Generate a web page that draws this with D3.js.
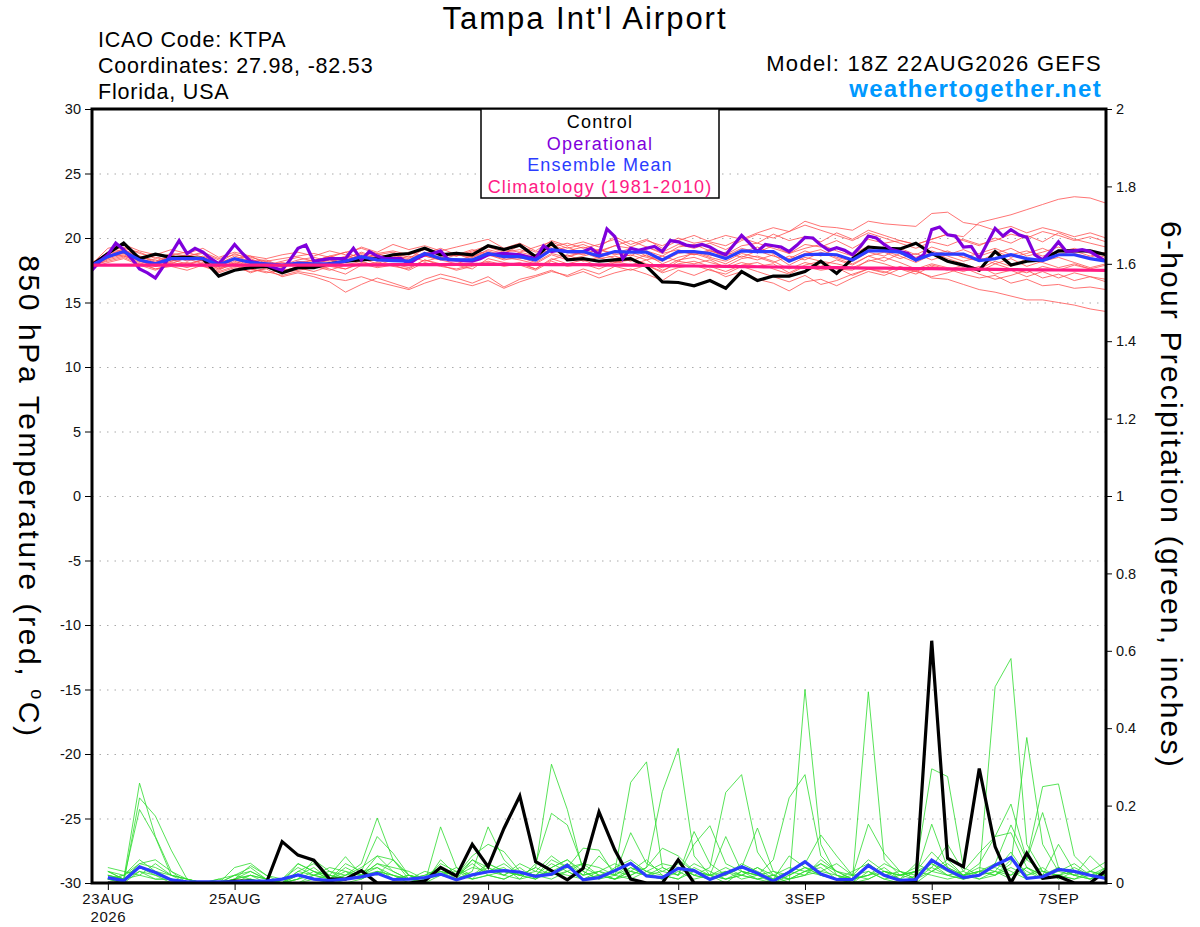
<!DOCTYPE html>
<html>
<head>
<meta charset="utf-8">
<script src="https://cdn.jsdelivr.net/npm/d3@7"></script>
<style>
  body { margin: 0; background: #fff; }
  text { font-family: "Liberation Sans", Arial, Helvetica, sans-serif; }
</style>
</head>
<body>
<svg width="1200" height="927"></svg>
<script>
// ---- data ----
const runStart = Date.UTC(2026, 7, 22, 18) // 18Z 22AUG2026
const stepHours = 6
const opStepHours = 3

const dateTicks = ["2026-08-23", "2026-08-25", "2026-08-27", "2026-08-29",
  "2026-09-01", "2026-09-03", "2026-09-05", "2026-09-07"]
const tempTicks = [-30, -25, -20, -15, -10, -5, 0, 5, 10, 15, 20, 25, 30]
const gridTemps = [-25, -20, -15, -10, -5, 0, 5, 10, 15, 20, 25]
const precipTicks = [0, 0.2, 0.4, 0.6, 0.8, 1, 1.2, 1.4, 1.6, 1.8, 2]

const legendLabels = ["Control", "Operational", "Ensemble Mean", "Climatology (1981-2010)"]

// 850 hPa temperature, 6-hourly from 18Z 22AUG
const controlTemp = [17.9, 18.8, 19.6, 18.4, 18.75, 18.5, 18.5, 18.4, 17.05, 17.5, 17.7, 17.8, 17.3,
  17.7, 17.7, 18.0, 18.2, 18.3, 18.4, 18.7, 18.8, 19.2, 18.7, 18.8, 18.7, 19.4,
  19.1, 19.45, 18.55, 19.6, 18.3, 18.4, 18.2, 18.3, 18.4, 17.8, 16.6, 16.55, 16.3,
  16.7, 16.1, 17.4, 16.7, 17.05, 17.05, 17.4, 18.2, 17.25, 18.4, 19.3, 19.2, 19.15,
  19.6, 18.8, 18.2, 17.9, 17.5, 18.95, 17.9, 18.2, 18.3, 19.0, 19.0, 19.0, 18.7]

const meanTemp = [17.9, 18.55, 18.95, 18.3, 18.0, 18.4, 18.4, 18.4, 17.9, 18.4, 18.1, 18.0, 17.9,
  18.05, 18.0, 18.0, 18.2, 18.55, 18.3, 18.25, 18.2, 18.8, 18.4, 18.3, 18.3, 18.8,
  18.55, 18.55, 18.3, 19.1, 18.95, 18.95, 18.6, 18.95, 18.9, 18.9, 18.3, 18.95, 18.95,
  18.8, 18.4, 19.0, 18.95, 18.95, 18.2, 18.7, 18.75, 18.7, 18.3, 19.0, 19.0, 18.9,
  18.3, 18.75, 18.75, 18.75, 18.25, 18.4, 18.7, 18.4, 18.25, 18.7, 18.7, 18.4, 18.2]

const climTemp = [17.9, 17.9, 17.9, 17.9, 17.9, 17.9, 17.9, 17.9, 17.9, 17.9, 17.9, 17.9, 17.9,
  17.9, 17.9, 17.9, 17.9, 17.92, 17.92, 17.93, 17.93, 17.94, 17.94, 17.95, 17.95, 17.95,
  17.95, 17.95, 17.95, 17.94, 17.94, 17.93, 17.92, 17.9, 17.89, 17.87, 17.86, 17.84, 17.83,
  17.81, 17.8, 17.78, 17.77, 17.75, 17.74, 17.72, 17.71, 17.7, 17.68, 17.67, 17.66, 17.64,
  17.63, 17.62, 17.6, 17.59, 17.58, 17.57, 17.55, 17.54, 17.53, 17.52, 17.51, 17.5, 17.49]

// operational run is 3-hourly
const operationalTemp = [17.5, 18.2, 18.7, 19.6, 19.1, 18.4, 17.6, 17.3, 16.9, 17.8, 18.8, 19.8, 18.8,
  19.2, 18.9, 18.4, 18.0, 18.7, 19.5, 18.8, 18.2, 18.05, 17.9, 17.7, 17.5, 18.3, 19.2,
  19.45, 18.2, 18.3, 18.4, 18.4, 18.4, 19.2, 18.3, 18.95, 18.6, 18.4, 18.4, 18.4, 18.0,
  18.4, 18.7, 18.8, 19.0, 18.3, 18.3, 18.25, 18.2, 18.4, 18.7, 18.75, 18.8, 18.75, 18.7,
  18.55, 18.4, 19.4, 18.95, 19.05, 18.95, 18.95, 18.95, 19.2, 18.7,
  20.7, 20.1, 18.4, 19.2, 19.05, 19.2, 19.35, 18.95, 19.8, 19.7, 19.45, 19.35, 19.5,
  19.3, 18.95, 18.7, 19.45, 20.2, 19.6, 18.95, 19.5, 19.4, 19.3, 18.95, 19.45, 20.05,
  20.0, 19.45, 19.05, 19.25, 19.05, 18.7, 19.35, 20.15, 20.0, 19.5, 19.1, 18.95, 18.8,
  18.3, 18.7, 20.65, 20.85, 20.25, 20.15, 19.3, 19.35, 18.4, 19.6, 20.75, 20.15, 20.65,
  20.25, 20.05, 18.7, 18.3, 18.95, 19.7, 18.95, 19.0, 19.1, 18.95, 18.55, 18.2]

const memberTemps = [
  [17.8, 18.4, 19.1, 18.6, 18.2, 18.7, 18.9, 18.5, 18.0, 18.6, 18.2, 18.3, 17.8,
    18.1, 18.3, 18.5, 18.4, 18.9, 18.5, 18.7, 18.4, 19.2, 18.8, 18.6, 18.9, 19.3,
    18.9, 19.1, 18.7, 19.5, 19.0, 19.3, 18.9, 19.4, 19.2, 19.0, 18.6, 19.3, 19.5,
    19.0, 18.7, 19.4, 19.6, 19.2, 18.8, 19.5, 19.3, 19.8, 19.2, 19.9, 19.6, 19.8,
    19.5, 19.9, 20.3, 20.1, 21.2, 21.5, 21.8, 22.2, 22.6, 23.0, 23.2, 23.1, 22.7],
  [18.0, 18.9, 19.3, 18.8, 18.5, 18.2, 18.6, 18.8, 18.3, 18.0, 18.4, 17.9, 18.2,
    18.5, 18.2, 18.6, 18.9, 18.4, 18.7, 18.9, 18.5, 18.8, 19.2, 18.7, 18.5, 19.1,
    18.8, 19.4, 18.9, 19.3, 19.6, 19.2, 19.5, 19.9, 19.3, 19.8, 19.4, 20.0, 19.6,
    19.8, 20.2, 19.9, 20.4, 20.8, 20.5, 21.3, 20.9, 20.8, 20.6, 21.3, 21.1, 21.0,
    20.9, 21.9, 22.0, 21.2, 21.0, 20.6, 20.9, 20.4, 20.8, 20.5, 20.1, 20.4, 20.0],
  [17.9, 18.2, 18.5, 18.0, 17.6, 17.9, 18.1, 17.8, 17.4, 17.8, 17.6, 17.3, 17.5,
    17.7, 17.4, 17.8, 17.6, 18.0, 17.7, 17.9, 17.5, 18.1, 17.8, 17.6, 17.9, 18.2,
    17.9, 18.1, 17.6, 18.4, 18.0, 18.3, 17.8, 18.2, 17.9, 18.3, 17.5, 18.0, 18.2,
    17.8, 17.4, 17.9, 18.1, 17.6, 17.2, 17.8, 17.5, 17.7, 17.1, 17.6, 17.4, 17.0,
    17.5, 16.9, 16.8, 16.4, 16.0, 15.8, 15.5, 15.2, 15.2, 15.0, 14.8, 14.5, 14.3],
  [18.1, 18.7, 18.8, 18.2, 17.9, 18.3, 18.0, 18.3, 17.6, 18.2, 17.8, 17.9, 17.4,
    17.8, 17.9, 17.6, 17.2, 17.9, 18.1, 17.8, 17.6, 18.3, 18.0, 17.9, 17.6, 18.4,
    18.1, 17.9, 17.5, 18.2, 17.8, 18.0, 17.6, 18.1, 18.3, 17.9, 17.4, 18.2, 18.0,
    18.3, 17.7, 18.1, 17.8, 18.0, 17.3, 17.9, 18.2, 17.6, 17.5, 18.3, 18.0, 17.6,
    17.4, 17.9, 17.6, 17.2, 16.9, 17.1, 16.5, 16.8, 16.3, 16.4, 16.1, 16.2, 16.0],
  [17.8, 18.3, 18.6, 18.1, 17.6, 17.8, 17.5, 17.9, 17.3, 17.7, 17.4, 17.6, 17.0,
    17.3, 17.0, 16.6, 15.8, 16.4, 16.9, 16.5, 16.1, 16.8, 17.2, 16.9, 16.5, 17.0,
    16.2, 16.8, 17.1, 17.5, 17.0, 17.4, 16.9, 17.3, 17.6, 17.2, 16.7, 17.5, 17.1,
    17.6, 17.0, 17.4, 16.8, 16.5, 15.9, 16.6, 16.8, 16.3, 16.9, 17.4, 17.1, 17.6,
    17.2, 17.8, 17.5, 17.9, 17.4, 18.0, 17.6, 17.3, 17.8, 17.5, 17.9, 17.6, 17.4],
  [18.0, 19.2, 19.5, 19.0, 18.7, 19.1, 18.8, 19.2, 18.5, 18.9, 18.6, 18.4, 18.7,
    18.9, 18.6, 19.0, 18.7, 19.3, 18.9, 19.5, 19.1, 19.4, 19.0, 19.3, 19.6, 19.9,
    19.2, 19.6, 19.0, 19.8, 19.4, 19.7, 19.3, 20.1, 19.5, 19.9, 19.2, 19.8, 20.2,
    19.7, 19.4, 20.0, 19.6, 20.3, 19.8, 20.1, 19.7, 20.4, 19.9, 20.6, 20.2, 19.8,
    19.5, 19.9, 20.3, 19.8, 19.4, 20.0, 19.6, 20.2, 19.7, 20.4, 19.9, 19.6, 19.3],
  [17.9, 18.5, 18.9, 18.4, 18.1, 18.6, 18.3, 18.5, 18.1, 18.4, 18.0, 18.2, 17.8,
    18.0, 18.3, 18.1, 18.5, 18.8, 18.4, 18.6, 18.3, 18.9, 18.5, 18.2, 18.6, 19.0,
    18.6, 18.8, 18.4, 19.2, 18.9, 18.7, 19.1, 18.8, 19.2, 18.6, 18.3, 19.0, 18.7,
    19.1, 18.5, 18.9, 19.3, 18.8, 18.4, 19.0, 18.6, 19.2, 18.7, 19.4, 19.0, 18.6,
    18.1, 18.7, 19.0, 18.5, 18.2, 18.8, 19.2, 18.6, 18.9, 19.3, 18.8, 18.5, 18.9],
  [18.1, 18.8, 19.0, 18.5, 18.3, 18.0, 18.5, 18.2, 17.8, 18.3, 17.9, 18.1, 17.7,
    18.2, 18.0, 18.3, 18.1, 18.4, 18.0, 18.5, 18.2, 18.6, 18.3, 18.0, 18.4, 18.7,
    18.3, 18.5, 18.1, 18.8, 18.5, 18.9, 18.4, 18.6, 18.2, 18.7, 18.0, 18.5, 18.8,
    18.4, 18.0, 18.6, 18.3, 18.7, 17.9, 18.5, 18.2, 18.0, 17.7, 18.2, 18.5, 18.1,
    17.6, 18.0, 17.7, 17.4, 17.8, 17.2, 17.5, 17.0, 17.4, 16.9, 17.3, 17.0, 16.8],
  [17.8, 18.6, 19.2, 18.9, 18.4, 18.8, 18.6, 18.9, 18.4, 18.7, 18.5, 18.2, 18.4,
    18.6, 18.8, 18.5, 18.9, 19.2, 18.8, 19.0, 18.7, 19.1, 18.9, 18.6, 19.0, 19.4,
    19.1, 18.9, 19.3, 19.7, 19.2, 19.5, 19.0, 19.4, 19.8, 19.3, 18.9, 19.5, 19.2,
    19.6, 19.1, 19.8, 20.3, 20.0, 20.5, 21.0, 20.6, 20.2, 19.8, 20.4, 20.0, 19.6,
    19.2, 19.7, 19.4, 19.9, 19.5, 19.8, 20.3, 20.0, 20.5, 20.2, 19.8, 20.1, 19.7],
  [17.7, 18.1, 18.4, 17.9, 17.5, 18.0, 17.7, 18.1, 17.6, 17.9, 17.3, 17.7, 17.5,
    17.6, 17.8, 17.5, 17.9, 18.2, 17.8, 18.0, 17.7, 18.3, 17.9, 17.5, 17.8, 18.1,
    17.8, 18.0, 17.6, 18.3, 18.7, 18.2, 18.5, 18.1, 18.4, 18.0, 17.7, 18.3, 18.5,
    18.1, 17.8, 18.4, 18.6, 18.2, 17.6, 18.1, 17.8, 18.3, 17.9, 18.6, 18.2, 18.8,
    18.3, 18.9, 18.4, 18.0, 17.6, 18.2, 17.8, 18.4, 18.1, 17.7, 18.0, 17.6, 17.9],
  [18.0, 18.7, 18.6, 18.3, 17.8, 18.2, 18.4, 18.0, 17.5, 18.1, 17.7, 17.8, 17.3,
    17.5, 17.7, 17.9, 17.6, 18.1, 17.9, 18.3, 18.6, 18.2, 18.5, 18.8, 18.3, 18.6,
    18.9, 18.4, 18.7, 19.1, 18.6, 18.9, 18.5, 18.9, 18.6, 19.3, 18.8, 19.1, 18.7,
    19.0, 18.6, 19.2, 18.9, 19.4, 18.8, 19.2, 19.5, 19.0, 18.6, 19.1, 19.3, 18.8,
    18.5, 19.0, 18.6, 18.2, 18.5, 18.0, 18.4, 17.8, 18.2, 18.5, 18.1, 17.7, 18.0],
  [17.9, 18.4, 18.7, 18.2, 17.8, 18.1, 17.9, 18.3, 17.7, 18.0, 17.6, 17.4, 17.1,
    17.4, 17.2, 16.9, 16.7, 17.0, 16.6, 16.3, 16.0, 16.5, 16.9, 16.6, 16.3, 16.7,
    16.1, 16.6, 17.0, 17.4, 17.1, 17.6, 17.2, 17.8, 17.5, 17.9, 17.3, 17.7, 17.9,
    17.5, 17.2, 17.8, 17.4, 17.0, 16.6, 17.1, 16.4, 16.7, 17.2, 17.6, 17.3, 17.8,
    17.4, 17.0, 17.3, 17.7, 17.2, 16.8, 17.1, 17.5, 16.9, 17.2, 16.7, 17.0, 16.6],
  [17.8, 18.5, 18.8, 18.6, 18.1, 18.5, 18.7, 18.3, 17.9, 18.4, 18.6, 18.0, 17.9,
    18.3, 18.5, 18.2, 18.6, 18.3, 18.8, 18.4, 18.9, 18.6, 18.3, 18.7, 19.1, 18.7,
    18.4, 18.9, 18.6, 19.0, 19.3, 18.8, 19.1, 18.7, 18.9, 18.5, 18.2, 18.8, 19.0,
    18.6, 18.9, 18.5, 19.0, 18.6, 18.3, 18.8, 19.1, 18.5, 18.2, 18.9, 18.6, 19.2,
    18.7, 19.3, 18.9, 18.5, 18.8, 19.2, 18.7, 19.0, 18.6, 18.9, 19.2, 18.8, 18.5],
  [18.0, 18.9, 19.1, 18.4, 18.0, 18.7, 18.2, 18.6, 18.1, 18.8, 18.3, 17.9, 18.1,
    17.9, 18.2, 18.6, 18.3, 18.7, 18.2, 18.4, 18.1, 18.7, 18.4, 18.9, 18.5, 18.9,
    18.5, 18.3, 18.0, 18.7, 18.3, 18.6, 18.9, 18.4, 18.7, 18.3, 18.6, 18.2, 18.9,
    18.5, 18.2, 18.8, 18.5, 18.1, 18.6, 18.3, 18.9, 18.4, 18.0, 18.6, 18.9, 18.4,
    18.8, 18.3, 18.7, 19.1, 18.6, 19.0, 18.5, 18.8, 19.2, 18.7, 19.0, 18.6, 18.9]
]

// 6-hour precipitation (inches), valid from 00Z 23AUG
const controlPrecip = [0, 0, 0, 0, 0, 0, 0, 0, 0.005, 0.005, 0, 0.107, 0.072, 0.059, 0.01, 0.01,
  0.032, 0, 0, 0, 0.005, 0.04, 0.018, 0.10, 0.042, 0.141, 0.225, 0.055, 0.032, 0.008, 0.038, 0.184,
  0.085, 0.01, 0, 0, 0.06, 0, 0, 0, 0, 0, 0, 0, 0, 0, 0, 0,
  0, 0, 0, 0.004, 0.626, 0.064, 0.042, 0.296, 0.094, 0, 0.077, 0.012, 0.017, 0, 0, 0.032]

const meanPrecip = [0.014, 0.006, 0.042, 0.027, 0.008, 0.003, 0.003, 0.003, 0.003, 0.005, 0.005, 0.01, 0.021, 0.01, 0.006, 0.01,
  0.016, 0.025, 0.009, 0.01, 0.014, 0.023, 0.008, 0.021, 0.029, 0.032, 0.028, 0.017, 0.023, 0.046, 0.008, 0.014,
  0.032, 0.051, 0.018, 0.014, 0.038, 0.032, 0.009, 0.025, 0.042, 0.025, 0.005, 0.028, 0.055, 0.023, 0.009, 0.009,
  0.045, 0.02, 0.007, 0.009, 0.059, 0.034, 0.014, 0.02, 0.046, 0.066, 0.012, 0.016, 0.035, 0.03, 0.02, 0.012]

const memberPrecips = [
  [0.02, 0.01, 0.258, 0.12, 0.03, 0, 0, 0, 0.01, 0.02, 0, 0, 0.01, 0.03, 0.01, 0,
    0.01, 0.03, 0.02, 0, 0.01, 0.04, 0.02, 0.01, 0.05, 0.03, 0.02, 0.04, 0.307, 0.19, 0.03, 0.01,
    0.02, 0.05, 0.03, 0.01, 0.04, 0.02, 0.01, 0.03, 0.02, 0.01, 0, 0.02, 0.04, 0.02, 0.01, 0,
    0.03, 0.01, 0, 0.02, 0.05, 0.03, 0.01, 0.02, 0.507, 0.58, 0.1, 0.03, 0.02, 0.01, 0.03, 0.02],
  [0.01, 0, 0.22, 0.173, 0.085, 0.01, 0, 0, 0, 0.01, 0, 0, 0, 0.02, 0.03, 0.01,
    0.02, 0.04, 0.01, 0.02, 0, 0.145, 0.04, 0.01, 0.02, 0.01, 0.03, 0.02, 0.05, 0.03, 0.01, 0.02,
    0.01, 0.03, 0.06, 0.02, 0.01, 0.04, 0.02, 0, 0.03, 0.01, 0.02, 0, 0.5, 0.1, 0.02, 0.01,
    0.02, 0.04, 0.01, 0, 0.03, 0.06, 0.02, 0.01, 0.03, 0.02, 0.04, 0.01, 0.02, 0.03, 0.01, 0.02],
  [0.03, 0.01, 0.19, 0.118, 0.02, 0, 0, 0, 0.01, 0.03, 0.01, 0, 0.02, 0.01, 0, 0.02,
    0.05, 0.168, 0.06, 0.02, 0.01, 0.03, 0.02, 0.04, 0.03, 0.05, 0.02, 0.01, 0.04, 0.06, 0.02, 0.03,
    0.01, 0.02, 0.04, 0.236, 0.348, 0.07, 0.02, 0.01, 0.03, 0.02, 0, 0.01, 0.03, 0.05, 0.02, 0,
    0.01, 0.03, 0.02, 0.04, 0.295, 0.275, 0.04, 0.02, 0.05, 0.03, 0.01, 0.02, 0.04, 0.02, 0.01, 0.03],
  [0.01, 0.02, 0.06, 0.03, 0.01, 0, 0, 0.01, 0.02, 0.04, 0.01, 0, 0.03, 0.05, 0.02, 0.01,
    0.02, 0.07, 0.03, 0.01, 0.02, 0.04, 0.01, 0.03, 0.145, 0.06, 0.02, 0.03, 0.02, 0.04, 0.05, 0.02,
    0.03, 0.26, 0.313, 0.04, 0.02, 0.05, 0.03, 0.01, 0.02, 0.04, 0.01, 0.03, 0.02, 0.06, 0.03, 0.01,
    0.494, 0.06, 0.02, 0.01, 0.04, 0.02, 0.03, 0.01, 0.02, 0.05, 0.376, 0.1, 0.03, 0.02, 0.01, 0.04],
  [0.02, 0.01, 0.05, 0.04, 0.02, 0.01, 0, 0, 0.04, 0.051, 0.02, 0.01, 0.04, 0.02, 0.01, 0.05,
    0.03, 0.12, 0.077, 0.02, 0.01, 0.05, 0.03, 0.02, 0.04, 0.02, 0.01, 0.05, 0.18, 0.15, 0.04, 0.02,
    0.01, 0.04, 0.02, 0.03, 0.05, 0.02, 0.04, 0.234, 0.28, 0.08, 0.02, 0.01, 0.03, 0.04, 0.01, 0.02,
    0.03, 0.01, 0.02, 0.03, 0.05, 0.02, 0.01, 0.03, 0.04, 0.02, 0.06, 0.249, 0.256, 0.07, 0.03, 0.02],
  [0.01, 0.01, 0.04, 0.02, 0.01, 0, 0, 0.01, 0, 0.02, 0.01, 0, 0.05, 0.03, 0.02, 0.068,
    0.02, 0.05, 0.03, 0.01, 0, 0.06, 0.02, 0.07, 0.1, 0.081, 0.03, 0.02, 0.06, 0.04, 0.02, 0.03,
    0.05, 0.03, 0.02, 0.04, 0.02, 0.1, 0.148, 0.05, 0.03, 0.02, 0.06, 0.22, 0.28, 0.07, 0.03, 0.01,
    0.02, 0.05, 0.03, 0.01, 0.06, 0.03, 0.02, 0.05, 0.12, 0.204, 0.06, 0.03, 0.02, 0.04, 0.02, 0.01],
  [0.03, 0.02, 0.05, 0.06, 0.03, 0.01, 0, 0, 0.01, 0.045, 0.02, 0, 0.01, 0.06, 0.03, 0.02,
    0.04, 0.07, 0.06, 0.02, 0.01, 0.03, 0.02, 0.06, 0.04, 0.02, 0.05, 0.03, 0.07, 0.04, 0.09, 0.085,
    0.02, 0.13, 0.05, 0.03, 0.02, 0.133, 0.05, 0.02, 0.04, 0.142, 0.03, 0.02, 0.04, 0.03, 0.05, 0.02,
    0.152, 0.077, 0.03, 0.02, 0.152, 0.04, 0.02, 0.03, 0.05, 0.15, 0.06, 0.182, 0.04, 0.02, 0.03, 0.055],
  [0.01, 0, 0.03, 0.02, 0, 0, 0, 0, 0.02, 0.01, 0, 0, 0.02, 0.04, 0.01, 0.03,
    0.01, 0.03, 0.02, 0.01, 0.02, 0.03, 0.01, 0.02, 0.03, 0.04, 0.01, 0.02, 0.03, 0.05, 0.02, 0.07,
    0.03, 0.02, 0.04, 0.09, 0.07, 0.03, 0.02, 0.12, 0.03, 0.02, 0.01, 0.03, 0.05, 0.124, 0.07, 0.02,
    0.01, 0.03, 0.02, 0.03, 0.04, 0.1, 0.03, 0.078, 0.12, 0.13, 0.04, 0.02, 0.1, 0.03, 0.02, 0.04],
  [0.04, 0.03, 0.02, 0.05, 0.02, 0.01, 0, 0, 0, 0.01, 0, 0.01, 0.05, 0.03, 0.01, 0.02,
    0.03, 0.02, 0.06, 0.01, 0, 0.02, 0.01, 0.06, 0.03, 0.02, 0.04, 0.01, 0.03, 0.02, 0.01, 0.03,
    0.02, 0.01, 0.03, 0.02, 0.01, 0.03, 0.02, 0.04, 0.02, 0.01, 0.02, 0.04, 0.03, 0.02, 0.01, 0,
    0.05, 0.02, 0.01, 0.03, 0.08, 0.04, 0.02, 0.03, 0.02, 0.06, 0.03, 0.01, 0.04, 0.02, 0.07, 0.03],
  [0.02, 0.01, 0.03, 0.01, 0.01, 0, 0, 0, 0.01, 0.02, 0.01, 0, 0, 0.01, 0.02, 0.01,
    0.03, 0.04, 0.02, 0.01, 0.03, 0.02, 0.03, 0.01, 0.02, 0.03, 0.02, 0.04, 0.02, 0.03, 0.01, 0.02,
    0.01, 0.03, 0.02, 0.01, 0.03, 0.01, 0.02, 0.03, 0.01, 0.02, 0.03, 0.01, 0.02, 0.03, 0.02, 0.01,
    0.02, 0.03, 0.02, 0.03, 0.02, 0.01, 0.02, 0.03, 0.02, 0.04, 0.02, 0.03, 0.02, 0.01, 0.02, 0.03],
  [0.01, 0.02, 0.04, 0.03, 0.02, 0.01, 0, 0, 0, 0, 0, 0, 0.03, 0.02, 0.04, 0.03,
    0.02, 0.05, 0.04, 0.03, 0.01, 0.02, 0.04, 0.02, 0.05, 0.03, 0.02, 0.01, 0.04, 0.06, 0.03, 0.01,
    0.04, 0.06, 0.03, 0.05, 0.04, 0.02, 0.01, 0.02, 0.05, 0.03, 0.01, 0.07, 0.04, 0.02, 0.01, 0.03,
    0.05, 0.02, 0.03, 0.01, 0.03, 0.05, 0.02, 0.04, 0.03, 0.01, 0.04, 0.02, 0.03, 0.05, 0.02, 0.01],
  [0.03, 0.01, 0.02, 0.01, 0.01, 0, 0, 0, 0.02, 0.03, 0.01, 0, 0.01, 0.02, 0.01, 0.04,
    0.02, 0.03, 0.01, 0.02, 0.01, 0.04, 0.02, 0.05, 0.02, 0.01, 0.03, 0.02, 0.01, 0.03, 0.05, 0.04,
    0.02, 0.04, 0.02, 0.01, 0.06, 0.03, 0.02, 0.01, 0.02, 0.04, 0.02, 0.01, 0.02, 0.05, 0.03, 0.02,
    0.06, 0.03, 0.01, 0.05, 0.03, 0.02, 0.01, 0.02, 0.03, 0.08, 0.02, 0.04, 0.01, 0.03, 0.02, 0.02]
]

// ---- colours ----
const memberTempColor = "#ff5050"
const memberPrecipColor = "#2ddc2d"
const controlColor = "#000000"
const operationalColor = "#7f00dc"
const meanColor = "#2b3cff"
const climColor = "#ff1a84"
const legendColors = [controlColor, operationalColor, meanColor, climColor]

// ---- layout ----
const svg = d3.select("svg")
const plot = { left: 92, right: 1106, top: 109, bottom: 883 }

const timeAt = (i, hours, offset) => new Date(runStart + (i + offset) * hours * 3600e3)

const x = d3.scaleUtc()
  .domain([new Date(runStart), timeAt(64, stepHours, 0)])
  .range([plot.left, plot.right])
const yT = d3.scaleLinear().domain([-30, 30]).range([plot.bottom, plot.top])
const yP = d3.scaleLinear().domain([0, 2]).range([plot.bottom, plot.top])

const tempLine = (hours, offset) => d3.line()
  .x((d, i) => x(timeAt(i, hours, offset)))
  .y(d => yT(d))
const precipLine = d3.line()
  .x((d, i) => x(timeAt(i, stepHours, 1)))
  .y(d => yP(d))

// dotted grid
svg.append("g")
  .attr("transform", `translate(${plot.left},0)`)
  .call(d3.axisLeft(yT).tickValues(gridTemps).tickSize(-(plot.right - plot.left)).tickFormat(""))
  .call(g => g.select(".domain").remove())
  .selectAll("line")
  .attr("stroke", "#aaaaaa")
  .attr("stroke-width", 1.2)
  .attr("stroke-dasharray", "1.5,6")

// clip so lines stay in the frame
svg.append("clipPath").attr("id", "plotclip")
  .append("rect")
  .attr("x", plot.left).attr("y", plot.top)
  .attr("width", plot.right - plot.left).attr("height", plot.bottom - plot.top)

const lines = svg.append("g").attr("clip-path", "url(#plotclip)")

// ensemble members
lines.selectAll("path.tmember")
  .data(memberTemps)
  .join("path")
  .attr("class", "tmember")
  .attr("d", tempLine(stepHours, 0))
  .attr("fill", "none")
  .attr("stroke", memberTempColor)
  .attr("stroke-width", 0.8)

lines.selectAll("path.pmember")
  .data(memberPrecips)
  .join("path")
  .attr("class", "pmember")
  .attr("d", precipLine)
  .attr("fill", "none")
  .attr("stroke", memberPrecipColor)
  .attr("stroke-width", 0.8)

function thickLine(d, gen, color) {
  lines.append("path")
    .datum(d)
    .attr("d", gen)
    .attr("fill", "none")
    .attr("stroke", color)
    .attr("stroke-width", 3.2)
    .attr("stroke-linejoin", "miter")
}

thickLine(controlPrecip, precipLine, controlColor)
thickLine(meanPrecip, precipLine, meanColor)
thickLine(controlTemp, tempLine(stepHours, 0), controlColor)
thickLine(operationalTemp, tempLine(opStepHours, 0), operationalColor)
thickLine(meanTemp, tempLine(stepHours, 0), meanColor)
thickLine(climTemp, tempLine(stepHours, 0), climColor)

// ---- axes ----
const tickFont = g => g.selectAll("text")
  .attr("font-size", 14.5)
  .attr("fill", "#111")
  .style("font-family", "'Liberation Sans', Arial, sans-serif")

// plain hyphen minus, like the reference
const plainNum = d => String(d)

svg.append("g")
  .attr("transform", `translate(${plot.left - 1},0)`)
  .call(d3.axisLeft(yT).tickValues(tempTicks).tickSize(6).tickPadding(4).tickFormat(plainNum))
  .call(g => g.select(".domain").remove())
  .call(tickFont)

svg.append("g")
  .attr("transform", `translate(${plot.right + 1},0)`)
  .call(d3.axisRight(yP).tickValues(precipTicks).tickSize(5).tickPadding(4).tickFormat(plainNum))
  .call(g => g.select(".domain").remove())
  .call(tickFont)

const dayFmt = d3.utcFormat("%-d%b")
const xAxis = svg.append("g")
  .attr("transform", `translate(0,${plot.bottom + 1})`)
  .call(d3.axisBottom(x).tickValues(dateTicks.map(s => new Date(s + "T00:00:00Z")))
    .tickSize(6).tickPadding(3).tickFormat(d => dayFmt(d).toUpperCase()))
  .call(g => g.select(".domain").remove())
  .call(tickFont)
  .call(g => g.selectAll("text").attr("font-size", 15).attr("letter-spacing", 0.6))

xAxis.select(".tick text")
  .append("tspan")
  .attr("x", 0)
  .attr("dy", "1.2em")
  .text("2026")

// frame
svg.append("rect")
  .attr("x", plot.left).attr("y", plot.top)
  .attr("width", plot.right - plot.left).attr("height", plot.bottom - plot.top)
  .attr("fill", "none")
  .attr("stroke", "#000")
  .attr("stroke-width", 3)

// ---- legend ----
const legend = svg.append("g")
legend.append("rect")
  .attr("x", 481).attr("y", plot.top)
  .attr("width", 238).attr("height", 89)
  .attr("fill", "#fff")
  .attr("stroke", "#000")
  .attr("stroke-width", 1.5)
legend.selectAll("text")
  .data(legendLabels)
  .join("text")
  .attr("x", 600)
  .attr("y", (d, i) => 128 + i * 21.5)
  .attr("text-anchor", "middle")
  .attr("font-size", 18)
  .attr("letter-spacing", 1.2)
  .attr("fill", (d, i) => legendColors[i])
  .text(d => d)

// ---- titles ----
svg.append("text")
  .text("Tampa Int'l Airport")
  .attr("x", 585).attr("y", 29)
  .attr("text-anchor", "middle")
  .attr("font-size", 31)
  .attr("letter-spacing", 2)

const infoLeft = ["ICAO Code: KTPA", "Coordinates: 27.98, -82.53", "Florida, USA"]
svg.selectAll("text.info")
  .data(infoLeft)
  .join("text")
  .attr("class", "info")
  .attr("x", 98)
  .attr("y", (d, i) => 47 + i * 26)
  .attr("font-size", 21.5)
  .attr("letter-spacing", 0.8)
  .text(d => d)

svg.append("text")
  .text("Model: 18Z 22AUG2026 GEFS")
  .attr("x", 1102).attr("y", 71)
  .attr("text-anchor", "end")
  .attr("font-size", 22)
  .attr("letter-spacing", 1.3)

svg.append("text")
  .text("weathertogether.net")
  .attr("x", 1102).attr("y", 97)
  .attr("text-anchor", "end")
  .attr("font-size", 24)
  .attr("font-weight", "bold")
  .attr("letter-spacing", 1.3)
  .attr("fill", "#0099ff")

// axis titles, both read top to bottom
const leftTitle = svg.append("text")
  .attr("transform", "translate(19,497) rotate(90)")
  .attr("text-anchor", "middle")
  .attr("font-size", 30)
  .attr("letter-spacing", 2.6)
leftTitle.append("tspan").text("850 hPa Temperature (red, ")
leftTitle.append("tspan").attr("font-size", 18).attr("dy", -12).text("o")
leftTitle.append("tspan").attr("dy", 12).text("C)")

svg.append("text")
  .attr("transform", "translate(1161,495) rotate(90)")
  .attr("text-anchor", "middle")
  .attr("font-size", 30)
  .attr("letter-spacing", 2.2)
  .text("6-hour Precipitation (green, inches)")
</script>
</body>
</html>
